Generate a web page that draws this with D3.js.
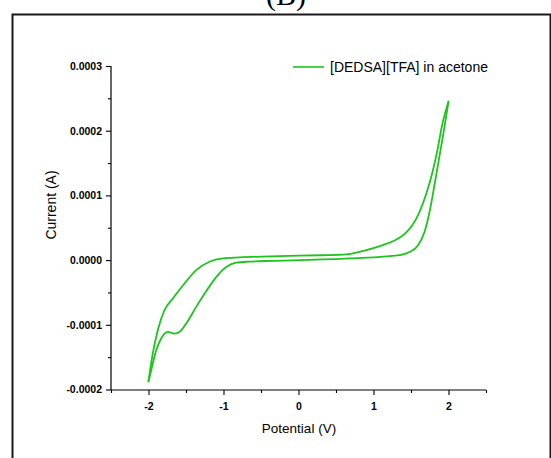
<!DOCTYPE html>
<html><head><meta charset="utf-8">
<script src="https://cdn.jsdelivr.net/npm/d3@7"></script>
<style>body{margin:0;background:#fff}svg{display:block}</style>
</head><body>
<svg id="c" width="551" height="458"></svg>
<script>
// forward scan (-2 V -> 2 V), current in A
const forwardPotential = [-2.0, -1.943, -1.876, -1.787, -1.676, -1.52, -1.364, -1.187, -1.009, -0.787, -0.253, 0.3, 0.636, 0.903, 1.124, 1.28, 1.413, 1.52, 1.613, 1.707, 1.787, 1.853, 1.913, 2.0];
const forwardCurrent = [-1.873e-4, -1.444e-4, -1.084e-4, -0.774e-4, -0.593e-4, -0.361e-4, -0.155e-4, -0.026e-4, 0.026e-4, 0.042e-4, 0.062e-4, 0.075e-4, 0.088e-4, 0.155e-4, 0.232e-4, 0.302e-4, 0.402e-4, 0.542e-4, 0.743e-4, 1.037e-4, 1.362e-4, 1.703e-4, 2.074e-4, 2.45e-4];
// reverse scan (2 V -> -2 V)
const reversePotential = [2.0, 1.947, 1.88, 1.813, 1.747, 1.68, 1.587, 1.48, 1.347, 0.68, -0.343, -0.653, -0.831, -0.964, -1.097, -1.231, -1.364, -1.497, -1.587, -1.653, -1.743, -1.831, -1.897, -1.964, -2.0];
const reverseCurrent = [2.45e-4, 2.063e-4, 1.61e-4, 1.161e-4, 0.743e-4, 0.433e-4, 0.217e-4, 0.124e-4, 0.077e-4, 0.026e-4, -0.011e-4, -0.023e-4, -0.039e-4, -0.108e-4, -0.263e-4, -0.48e-4, -0.723e-4, -0.98e-4, -1.11e-4, -1.135e-4, -1.11e-4, -1.212e-4, -1.393e-4, -1.703e-4, -1.873e-4];

const xMajorTicks = [-2, -1, 0, 1, 2];
const xTickLabels = ["-2", "-1", "0", "1", "2"];
const xMinorTicks = [-2.5, -1.5, -0.5, 0.5, 1.5, 2.5];
const yMajorTicks = [0.0003, 0.0002, 0.0001, 0, -0.0001, -0.0002];
const yTickLabels = ["0.0003", "0.0002", "0.0001", "0.0000", "-0.0001", "-0.0002"];
const yMinorTicks = [0.00025, 0.00015, 0.00005, -0.00005, -0.00015];
const seriesName = "[DEDSA][TFA] in acetone";
const xTitle = "Potential (V)";
const yTitle = "Current (A)";
const panelTitle = "(B)";

const svg = d3.select("#c");
const x = d3.scaleLinear().domain([-2.5, 2.5]).range([111, 486]);
const y = d3.scaleLinear().domain([-0.0002, 0.0003]).range([389.5, 66]);
const green = "#1ec41e";

// frame
svg.append("rect").attr("x", 12.5).attr("y", 14.5).attr("width", 538).attr("height", 460)
  .attr("fill", "#fff").attr("stroke", "#1a1a1a").attr("stroke-width", 2);

svg.append("text").attr("x", 286).attr("y", 5).attr("text-anchor", "middle")
  .attr("font-family", "Liberation Serif, Times New Roman, serif").attr("font-size", 30)
  .attr("fill", "#000").text(panelTitle);

// x axis
const gx = svg.append("g").attr("transform", "translate(0,390)");
gx.append("g").call(d3.axisBottom(x).tickValues(xMajorTicks).tickSize(5).tickFormat((d, i) => xTickLabels[i]).tickPadding(8))
  .call(g => g.select(".domain").remove());
gx.append("g").call(d3.axisBottom(x).tickValues(xMinorTicks).tickSize(3).tickFormat(""))
  .call(g => g.select(".domain").remove());
gx.append("line").attr("x1", x(-2.5)).attr("x2", x(2.5)).attr("stroke", "#000").attr("stroke-width", 1.2);

// y axis
const gy = svg.append("g").attr("transform", "translate(111,0)");
gy.append("g").call(d3.axisLeft(y).tickValues(yMajorTicks).tickSize(5).tickFormat((d, i) => yTickLabels[i]).tickPadding(4))
  .call(g => g.select(".domain").remove());
gy.append("g").call(d3.axisLeft(y).tickValues(yMinorTicks).tickSize(3).tickFormat(""))
  .call(g => g.select(".domain").remove());
gy.append("line").attr("y1", y(-0.0002) + 0.5).attr("y2", y(0.0003)).attr("stroke", "#000").attr("stroke-width", 1.2);

svg.selectAll(".tick line").attr("stroke", "#000").attr("stroke-width", 1.1);
svg.selectAll(".tick text").attr("font-family", "Liberation Sans, Arial, sans-serif")
  .attr("font-weight", "bold").attr("font-size", 10.5).attr("fill", "#000");

// titles
svg.append("text").attr("x", 299).attr("y", 433).attr("text-anchor", "middle")
  .attr("font-family", "Liberation Sans, Arial, sans-serif").attr("font-size", 13.5).attr("fill", "#000").text(xTitle);
svg.append("text").attr("transform", "translate(56,205) rotate(-90)").attr("text-anchor", "middle")
  .attr("font-family", "Liberation Sans, Arial, sans-serif").attr("font-size", 14).attr("fill", "#000").text(yTitle);

// curve: two branches, each monotone in potential
const fwd = forwardPotential.map((v, i) => [v, forwardCurrent[i]]);
const rev = reversePotential.map((v, i) => [v, reverseCurrent[i]]).reverse();
const line = d3.line().x(d => x(d[0])).y(d => y(d[1])).curve(d3.curveMonotoneX);
[fwd, rev].forEach(b => {
  svg.append("path").datum(b).attr("d", line).attr("fill", "none")
    .attr("stroke", green).attr("stroke-width", 1.8).attr("stroke-linejoin", "round").attr("stroke-linecap", "round");
});

// legend
svg.append("line").attr("x1", 293).attr("x2", 324).attr("y1", 67).attr("y2", 67)
  .attr("stroke", "#44d444").attr("stroke-width", 2);
svg.append("text").attr("x", 330).attr("y", 72).attr("font-family", "Liberation Sans, Arial, sans-serif")
  .attr("font-size", 14).attr("fill", "#000").text(seriesName);
</script>
</body></html>
